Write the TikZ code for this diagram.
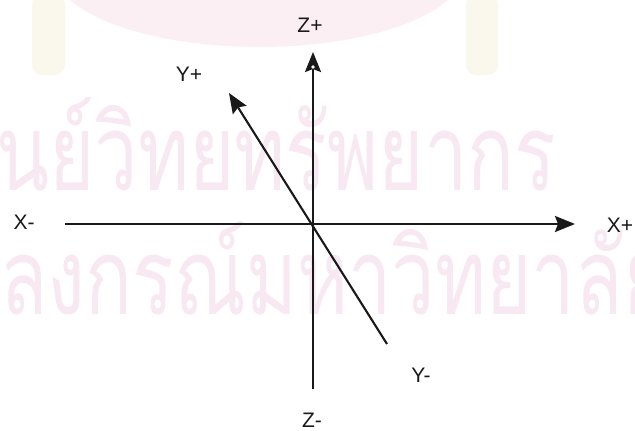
\documentclass[tikz,border=0pt]{standalone}
\usepackage{fontspec}
\newfontfamily\thaifont[Script=Thai]{Loma}
\newfontfamily\labfont{Liberation Sans}
\usetikzlibrary{arrows.meta}
\definecolor{wmpink}{RGB}{248,232,241}
\definecolor{logopink}{RGB}{252,239,244}
\definecolor{tassel}{RGB}{250,247,236}
\definecolor{ink}{RGB}{25,25,25}
\newsavebox\wmbox
\newcommand\wmfont{\thaifont\fontsize{100}{100}\selectfont}
\begin{document}
\sbox\wmbox{\wmfont นย์วิทยทรัพยากร}%
\begin{tikzpicture}[x=1pt,y=-1pt,
  axis/.style={draw=ink, line width=2.1pt},
  tipped/.style={-{Stealth[length=20pt,width=16pt,inset=3pt]}},
  lab/.style={font=\labfont\fontsize{21}{21}\selectfont, text=ink, inner sep=0pt},
  wm/.style={anchor=base west, inner sep=0pt, text=wmpink}]
\useasboundingbox (0,0) rectangle (635,431);
\clip (0,0) rectangle (635,431);
\fill[white] (0,0) rectangle (635,431);
% faint emblem at the top
\fill[logopink] (259,-30) ellipse [x radius=205, y radius=77];
\fill[tassel, rounded corners=10pt] (32,-5) rectangle (65,75);
\fill[tassel, rounded corners=10pt] (466,-5) rectangle (498,75);
% watermark text
\pgfmathsetmacro\wmsx{560/\the\wd\wmbox}
\pgfmathsetmacro\wmsy{93/\the\ht\wmbox}
\node[wm] (wmone) at (-4,190) {\scalebox{\wmsx}[\wmsy]{\wmfont นย์วิทยทรัพยากร}};
\node[wm] (wmtwo) at (0,314) {\scalebox{\wmsx}[\wmsy]{\wmfont ลงกรณ์มหาวิทยาลัย}};
% axes
\coordinate (O) at (313,224);
\coordinate (xneg) at (65,224);
\coordinate (xpos) at (575,224);
\coordinate (zpos) at (313,52);
\coordinate (zneg) at (313,389);
\coordinate (ypos) at (229,93);
\coordinate (yneg) at (387,344);
\draw[axis, tipped] (xneg) -- (xpos);
\draw[axis, tipped] (zneg) -- (zpos);
\draw[axis, tipped] (yneg) -- (ypos);
\fill[white] (313,67) circle (1.8);
% labels
\node[lab] (lxp) at (620,225) {X+};
\node[lab] (lxn) at (24,222) {X-};
\node[lab] (lzp) at (310,25) {Z+};
\node[lab] (lzn) at (312,420) {Z-};
\node[lab] (lyp) at (189,74) {Y+};
\node[lab] (lyn) at (421,375) {Y-};
\end{tikzpicture}
\end{document}
